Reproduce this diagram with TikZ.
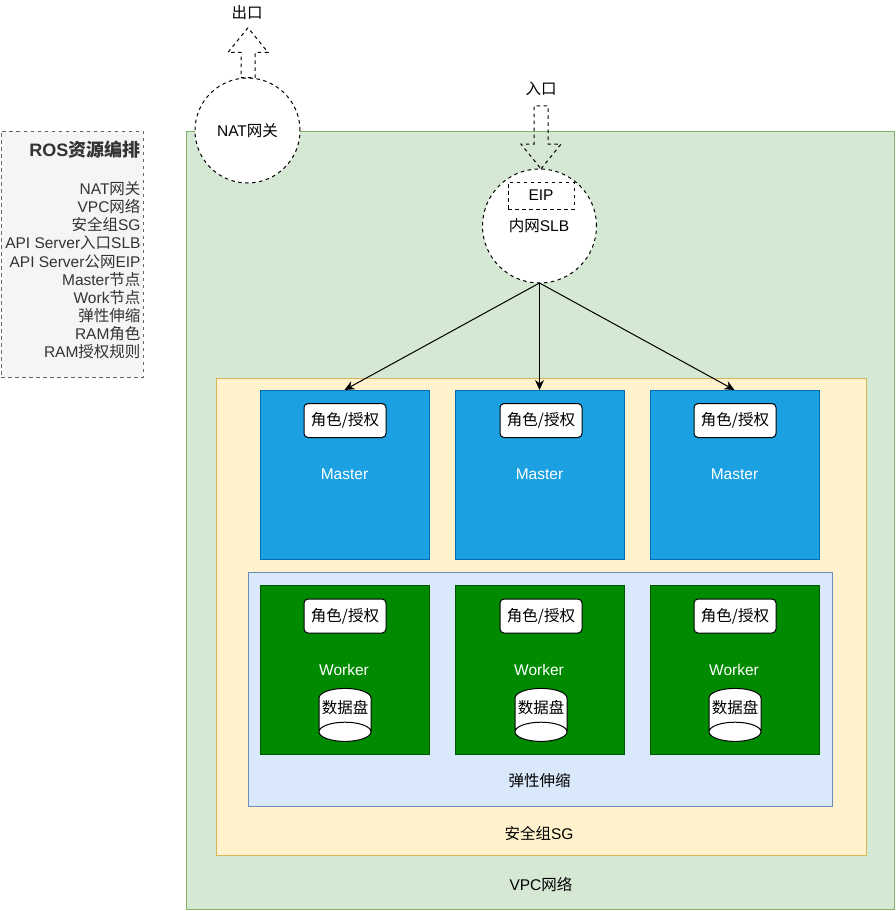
\documentclass[tikz,border=0pt]{standalone}
\usepackage{fontspec}
\setmainfont{Liberation Sans}
\newfontfamily\cjk{Noto Sans CJK SC}
\newcommand{\zh}[1]{{\cjk #1}}
\usetikzlibrary{shapes.geometric,shapes.arrows,arrows.meta}
\begin{document}
\begin{tikzpicture}[x=1pt, y=-1pt, every node/.style = {align=center, inner sep=0pt, outer sep=0pt, font=\fontsize{15.5}{18}\selectfont},
          zone/.style={shape=rectangle, draw, line width=0.9pt},
          vpczone/.style={zone, draw=vpcline, fill=vpcfill, minimum width=708pt, minimum height=778pt},
          sgzone/.style={zone, draw=sgline, fill=sgfill, minimum width=650pt, minimum height=477pt},
          scalezone/.style={zone, draw=scaleline, fill=scalefill, minimum width=584pt, minimum height=234pt},
          masterbox/.style={zone, draw=masterline, fill=masterfill, minimum size=169pt},
          workerbox/.style={zone, draw=workerline, fill=workerfill, minimum size=169pt},
          rolebox/.style={shape=rectangle, rounded corners=4pt, draw, line width=1pt, fill=white, minimum width=82pt, minimum height=34pt},
          nodetext/.style={text=white},
          disk/.style={shape=cylinder, shape border rotate=270, draw, line width=1pt, cylinder uses custom fill, cylinder body fill=white, cylinder end fill=white, aspect=0.38, inner xsep=2pt, minimum width=52pt, minimum height=53pt},
          dashcircle/.style={shape=circle, draw, fill=white, line width=1pt, dash pattern=on 3.5pt off 3.5pt},
          blockarrow/.style={shape=single arrow, draw, line width=1pt, dash pattern=on 3.5pt off 3.5pt, inner ysep=6.5pt, single arrow head extend=13pt, single arrow tip angle=78, single arrow head indent=0pt},
          rosbox/.style={shape=rectangle, draw=rosline, fill=rosfill, line width=1pt, dash pattern=on 3.5pt off 3.5pt, minimum width=142pt, minimum height=246pt},
          link/.style={draw, line width=1pt, -{Stealth[length=10pt,width=9pt]}}]
          \definecolor{vpcfill}{HTML}{D5E8D4}\definecolor{vpcline}{HTML}{82B366}
          \definecolor{sgfill}{HTML}{FFF2CC}\definecolor{sgline}{HTML}{D6B656}
          \definecolor{scalefill}{HTML}{DAE8FC}\definecolor{scaleline}{HTML}{6C8EBF}
          \definecolor{masterfill}{HTML}{1BA1E2}\definecolor{masterline}{HTML}{006EAF}
          \definecolor{workerfill}{HTML}{008A00}\definecolor{workerline}{HTML}{005700}
          \definecolor{rosfill}{HTML}{F5F5F5}\definecolor{rosline}{HTML}{666666}
          \useasboundingbox (0,0) rectangle (895,911);
          \node[vpczone](vpc) at (540,520) {};
          \node[sgzone](sg) at (541,616.5) {};
          \node[scalezone](scale) at (540,689) {};
          \node[masterbox](masterA) at (344.5,474.5) {};
          \node[masterbox](masterB) at (539.5,474.5) {};
          \node[masterbox](masterC) at (734.5,474.5) {};
          \node[nodetext](masterAtext) at (344.5,474.5) {Master};
          \node[nodetext](masterBtext) at (539.5,474.5) {Master};
          \node[nodetext](masterCtext) at (734.5,474.5) {Master};
          \node[rolebox](roleA) at (345,420.5) {\zh{角色/授权}};
          \node[rolebox](roleB) at (541,420.5) {\zh{角色/授权}};
          \node[rolebox](roleC) at (735,420.5) {\zh{角色/授权}};
          \node[workerbox](workerA) at (344.5,669.5) {};
          \node[workerbox](workerB) at (539.5,669.5) {};
          \node[workerbox](workerC) at (734.5,669.5) {};
          \node[nodetext](workerAtext) at (344,669.5) {Worker};
          \node[nodetext](workerBtext) at (539,669.5) {Worker};
          \node[nodetext](workerCtext) at (734,669.5) {Worker};
          \node[rolebox](roleD) at (345,616) {\zh{角色/授权}};
          \node[rolebox](roleE) at (541,616) {\zh{角色/授权}};
          \node[rolebox](roleF) at (735,616) {\zh{角色/授权}};
          \node[disk](diskA) at (345,708) {\zh{数据盘}};
          \node[disk](diskB) at (541,708) {\zh{数据盘}};
          \node[disk](diskC) at (735,708) {\zh{数据盘}};
          \node(scaletext) at (539.5,781) {\zh{弹性伸缩}};
          \node(sgtext) at (539,833) {\zh{安全组}SG};
          \node(vpctext) at (541,884) {VPC\zh{网络}};
          \node[dashcircle, minimum size=105pt](nat) at (247.5,130.5) {NAT\zh{网关}};
          \node[blockarrow, rotate=90, minimum height=50pt](outarrow) at (248,57) {};
          \node(outtext) at (247,13) {\zh{出口}};
          \node(intext) at (541,89) {\zh{入口}};
          \node[dashcircle, minimum size=114pt](slb) at (539.5,226) {};
          \node[blockarrow, rotate=270, minimum height=63pt](inarrow) at (541,133) {};
          \node[shape=rectangle, draw, dash pattern=on 3.5pt off 3.5pt, line width=1pt, minimum width=66pt, minimum height=27pt](eip) at (541,195.5) {EIP};
          \node(slbtext) at (539,226) {\zh{内网}SLB};
          \node[rosbox](ros) at (72,254) {};
          \node[anchor=north east, align=right, font=\fontsize{15.5}{18.1}\selectfont, text=black!80](rostext) at (140.5,141) {{\fontsize{18}{18.1}\selectfont\bfseries ROS\zh{资源编排}}\\[20pt]
            NAT\zh{网关}\\
            VPC\zh{网络}\\
            \zh{安全组}SG\\
            API Server\zh{入口}SLB\\
            API Server\zh{公网}EIP\\
            Master\zh{节点}\\
            Work\zh{节点}\\
            \zh{弹性伸缩}\\
            RAM\zh{角色}\\
            RAM\zh{授权规则}};
          \draw[link] (slb.south) -- (masterA.north);
          \draw[link] (slb.south) -- (masterB.north);
          \draw[link] (slb.south) -- (masterC.north);
        \end{tikzpicture}
\end{document}
